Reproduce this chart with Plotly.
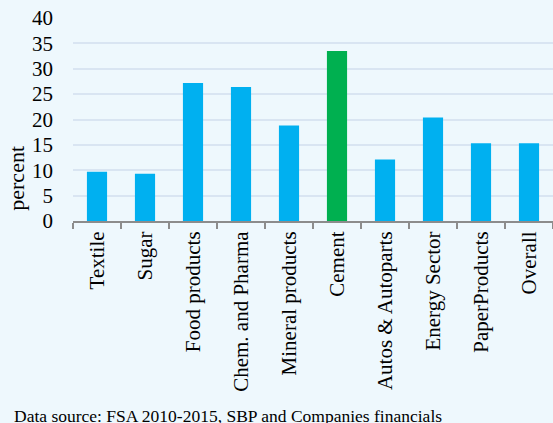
import plotly.graph_objects as go

categories = ["Textile", "Sugar", "Food products", "Chem. and Pharma", "Mineral products",
              "Cement", "Autos & Autoparts", "Energy Sector", "PaperProducts", "Overall"]
values = [9.7, 9.3, 27.2, 26.4, 18.8, 33.5, 12.1, 20.4, 15.3, 15.3]
highlight = "Cement"
y_ticks = [0, 5, 10, 15, 20, 25, 30, 35, 40]

blue = "#00B0F0"
green = "#00B050"
colors = [green if c == highlight else blue for c in categories]

fig = go.Figure()
fig.add_trace(go.Bar(x=categories, y=values, marker=dict(color=colors, line=dict(width=0)),
                     width=0.42))

font_family = "Liberation Serif, Times New Roman, serif"
fig.update_layout(
    width=553, height=423,
    margin=dict(l=73, r=0, t=18, b=202),
    paper_bgcolor="#EEF8FD",
    plot_bgcolor="#EEF8FD",
    font=dict(family=font_family, size=21, color="#000000"),
    showlegend=False,
)
fig.update_yaxes(range=[0, 40], tickvals=y_ticks, showgrid=True, gridcolor="#D9E5F2",
                 gridwidth=2, zeroline=False, showline=False, ticks="",
                 ticklabelstandoff=19, tickfont=dict(size=21))
fig.update_xaxes(tickangle=-90, showline=True, linecolor="#8C8C8C", linewidth=2,
                 ticks="outside", tickson="boundaries", ticklen=6, tickcolor="#8C8C8C",
                 tickwidth=2, tickfont=dict(size=21))

fig.add_annotation(text="percent", xref="paper", yref="paper", x=-0.118, y=0.21,
                   xanchor="center", yanchor="middle", textangle=-90, showarrow=False,
                   font=dict(size=22, family=font_family))

fig.add_annotation(text="Data source: FSA 2010-2015, SBP and Companies financials",
                   xref="paper", yref="paper", x=-0.127, y=-0.96, xanchor="left",
                   yanchor="middle", showarrow=False, font=dict(size=17.5, family=font_family))

fig.write_html("out.html", config={"displayModeBar": False},
               post_script="document.body.style.margin='0';document.body.style.background='#EEF8FD';")
